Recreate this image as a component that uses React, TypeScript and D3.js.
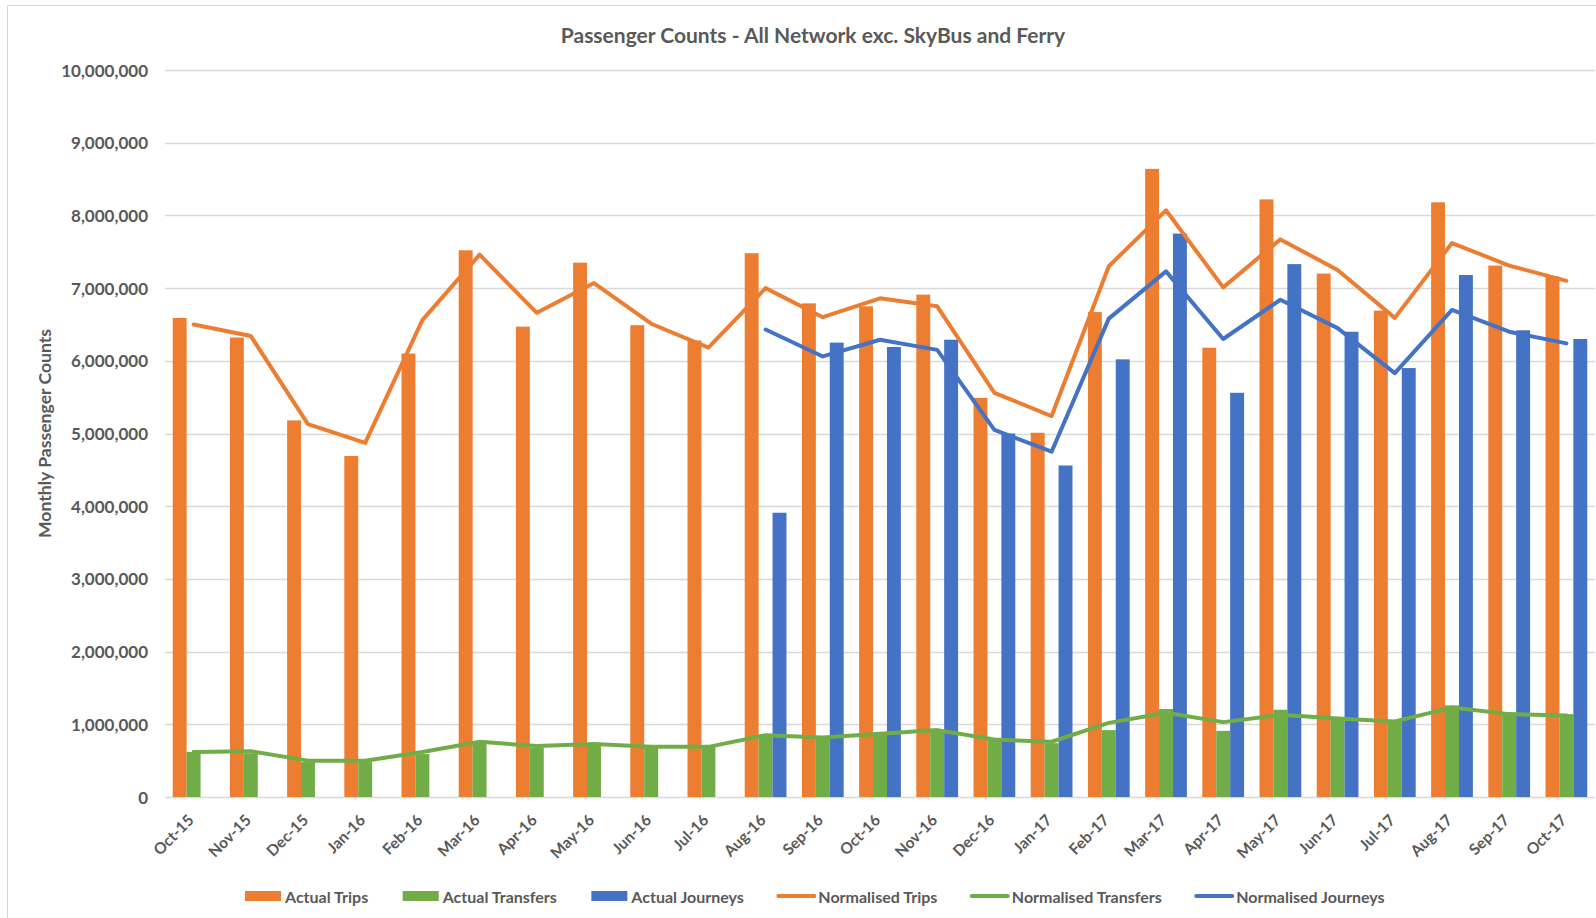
import React from 'react';
import * as d3 from 'd3';

const months = [
  'Oct-15', 'Nov-15', 'Dec-15', 'Jan-16', 'Feb-16', 'Mar-16', 'Apr-16', 'May-16', 'Jun-16',
  'Jul-16', 'Aug-16', 'Sep-16', 'Oct-16', 'Nov-16', 'Dec-16', 'Jan-17', 'Feb-17', 'Mar-17',
  'Apr-17', 'May-17', 'Jun-17', 'Jul-17', 'Aug-17', 'Sep-17', 'Oct-17',
];

const actualTrips = [
  6590000, 6320000, 5180000, 4690000, 6100000, 7520000, 6470000, 7350000, 6490000,
  6280000, 7480000, 6790000, 6750000, 6910000, 5490000, 5010000, 6670000, 8640000,
  6180000, 8220000, 7200000, 6690000, 8180000, 7310000, 7160000,
];

const actualTransfers = [
  620000, 600000, 480000, 480000, 590000, 760000, 680000, 730000, 710000,
  690000, 860000, 820000, 860000, 920000, 790000, 740000, 920000, 1210000,
  910000, 1200000, 1100000, 1040000, 1260000, 1140000, 1140000,
];

const actualJourneys = [
  null, null, null, null, null, null, null, null, null,
  null, 3910000, 6250000, 6190000, 6290000, 5000000, 4560000, 6020000, 7750000,
  5560000, 7330000, 6400000, 5900000, 7180000, 6420000, 6300000,
];

const normalisedTrips = [
  6500000, 6340000, 5130000, 4870000, 6560000, 7460000, 6660000, 7070000, 6510000,
  6180000, 7000000, 6600000, 6860000, 6750000, 5560000, 5240000, 7300000, 8070000,
  7010000, 7670000, 7250000, 6590000, 7620000, 7310000, 7100000,
];

const normalisedTransfers = [
  620000, 630000, 500000, 500000, 620000, 760000, 700000, 730000, 690000,
  690000, 850000, 820000, 870000, 920000, 790000, 760000, 1020000, 1160000,
  1030000, 1130000, 1080000, 1040000, 1230000, 1140000, 1120000,
];

const normalisedJourneys = [
  null, null, null, null, null, null, null, null, null,
  null, 6430000, 6060000, 6290000, 6150000, 5050000, 4750000, 6580000, 7230000,
  6300000, 6840000, 6450000, 5830000, 6700000, 6400000, 6240000,
];

const yTicks = [0, 1000000, 2000000, 3000000, 4000000, 5000000, 6000000, 7000000, 8000000, 9000000, 10000000];

const barSeries = [
  { key: 'Actual Trips', values: actualTrips, color: '#ED7D31' },
  { key: 'Actual Transfers', values: actualTransfers, color: '#70AD47' },
  { key: 'Actual Journeys', values: actualJourneys, color: '#4472C4' },
];

const lineSeries = [
  { key: 'Normalised Trips', values: normalisedTrips, color: '#ED7D31' },
  { key: 'Normalised Transfers', values: normalisedTransfers, color: '#70AD47' },
  { key: 'Normalised Journeys', values: normalisedJourneys, color: '#4472C4' },
];

const W = 1596;
const H = 918;
const plot = { left: 165, right: 1595, top: 70, bottom: 797 };
const FONT = 'Lato, "Open Sans", sans-serif';
const TEXT = '#595959';

function measure(text: string, font: string) {
  const c = document.createElement('canvas').getContext('2d');
  if (!c) return text.length * 8;
  c.font = font;
  return c.measureText(text).width;
}

const App = () => {
  const x = d3.scaleBand().domain(months).range([plot.left, plot.right]).padding(0);
  const band = x.bandwidth();
  const groupW = band * 0.73;
  const x1 = d3.scaleBand()
    .domain(barSeries.map(s => s.key))
    .range([(band - groupW) / 2, (band + groupW) / 2]);
  const y = d3.scaleLinear().domain([0, 10000000]).range([plot.bottom, plot.top]);
  const fmt = d3.format(',');

  const line = d3.line<number | null>()
    .defined(d => d != null)
    .x((_, i) => (x(months[i]) as number) + band / 2)
    .y(d => y(d as number));

  // legend layout
  const legendSize = 16;
  const legendFont = `bold ${legendSize}px ${FONT}`;
  const items = [
    ...barSeries.map(s => ({ ...s, type: 'bar' })),
    ...lineSeries.map(s => ({ ...s, type: 'line' })),
  ];
  const swW = 36;
  const swGap = 4;
  const itemGap = 34;
  const widths = items.map(it => swW + swGap + measure(it.key, legendFont));
  const totalW = d3.sum(widths) + itemGap * (items.length - 1);
  let lx = 815 - totalW / 2;
  const legendPos = widths.map(w => {
    const p = lx;
    lx += w + itemGap;
    return p;
  });
  const legendY = 896;

  return (
    <svg width={W} height={H} style={{ position: 'absolute', left: 0, top: 0, display: 'block', background: '#fff' }}>
      <rect x={7.5} y={5.5} width={W + 50} height={H + 50} fill="#fff" stroke="#D9D9D9" strokeWidth={1} />

      <text x={813} y={34} textAnchor="middle" dominantBaseline="central"
        fontFamily={FONT} fontWeight="bold" fontSize={21} fill={TEXT}>
        Passenger Counts - All Network exc. SkyBus and Ferry
      </text>

      {yTicks.map(t => (
        <g key={t}>
          <line x1={plot.left} x2={plot.right} y1={Math.round(y(t)) + 0.5} y2={Math.round(y(t)) + 0.5}
            stroke="#D9D9D9" strokeWidth={1.3} />
          <text x={148} y={y(t)} textAnchor="end" dominantBaseline="central"
            fontFamily={FONT} fontWeight="bold" fontSize={17} fill={TEXT}>
            {fmt(t)}
          </text>
        </g>
      ))}

      <text transform={`translate(44,${(plot.top + plot.bottom) / 2}) rotate(-90)`} textAnchor="middle"
        dominantBaseline="central" fontFamily={FONT} fontWeight="bold" fontSize={17.6} fill={TEXT}>
        Monthly Passenger Counts
      </text>

      {barSeries.map(s => (
        <g key={s.key} fill={s.color}>
          {s.values.map((v, i) => v == null ? null : (
            <rect key={i}
              x={(x(months[i]) as number) + (x1(s.key) as number)}
              y={y(v)}
              width={x1.bandwidth()}
              height={y(0) - y(v)} />
          ))}
        </g>
      ))}

      {lineSeries.map(s => (
        <path key={s.key} d={line(s.values) || ''} fill="none" stroke={s.color}
          strokeWidth={4} strokeLinejoin="round" strokeLinecap="round" />
      ))}

      {months.map(m => (
        <text key={m}
          transform={`translate(${(x(m) as number) + band / 2 - 3},817) rotate(-45)`}
          textAnchor="end" dominantBaseline="central"
          fontFamily={FONT} fontWeight="bold" fontSize={15.5} fill={TEXT}>
          {m}
        </text>
      ))}

      {items.map((it, i) => (
        <g key={it.key} transform={`translate(${legendPos[i]},${legendY})`}>
          {it.type === 'bar'
            ? <rect x={0} y={-5} width={swW} height={10} fill={it.color} />
            : <line x1={0} x2={swW} y1={0} y2={0} stroke={it.color} strokeWidth={4} strokeLinecap="round" />}
          <text x={swW + swGap} y={0} dominantBaseline="central"
            fontFamily={FONT} fontWeight="bold" fontSize={legendSize} fill={TEXT}>
            {it.key}
          </text>
        </g>
      ))}
    </svg>
  );
};

export default App;
